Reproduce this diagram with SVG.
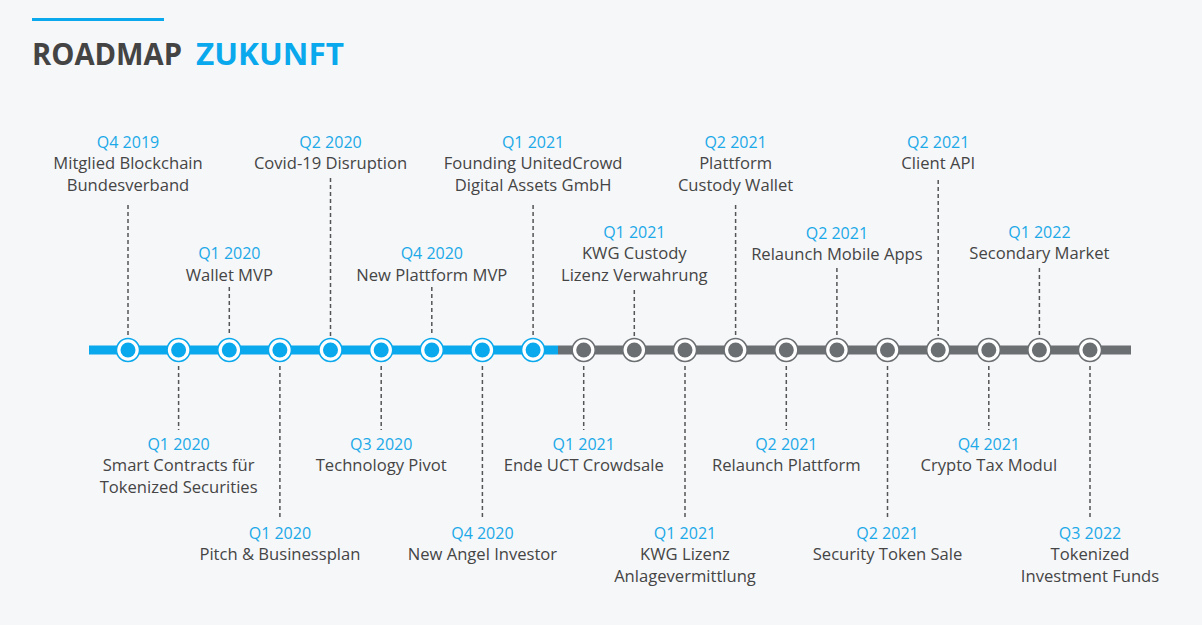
<svg xmlns="http://www.w3.org/2000/svg" width="1202" height="625" viewBox="0 0 1202 625">
<style>
.d{font-family:"Open Sans","Liberation Sans",sans-serif;font-size:16px;fill:#1ba9e8;text-anchor:middle}
.t{font-family:"Open Sans","Liberation Sans",sans-serif;font-size:16.6px;fill:#454545;text-anchor:middle}
.ln{stroke:#555;stroke-width:1.5;stroke-dasharray:4 3;fill:none}
.bo{fill:#fff;stroke:#0aa8ec;stroke-width:1.5}
.bi{fill:#0aa8ec}
.go{fill:#fff;stroke:#6b6f72;stroke-width:1.5}
.gi{fill:#6b6f72}
</style>
<rect width="1202" height="625" fill="#f6f7f9"/>
<g id="title">
<rect x="32" y="18" width="132" height="3" fill="#0aa8ec"/>
<text x="32" y="65" font-family="'Open Sans','Liberation Sans',sans-serif" font-weight="bold" font-size="31" fill="#444" textLength="150" lengthAdjust="spacingAndGlyphs">ROADMAP</text>
<text x="196" y="65" font-family="'Open Sans','Liberation Sans',sans-serif" font-weight="bold" font-size="31" fill="#0aa8ec" textLength="148" lengthAdjust="spacingAndGlyphs">ZUKUNFT</text>
</g>
<g id="connectors">
<line x1="89" y1="350" x2="558" y2="350" stroke="#0aa8ec" stroke-width="9"/>
<line x1="558" y1="350" x2="1131" y2="350" stroke="#6b6f72" stroke-width="9"/>
<line class="ln" x1="128" y1="205" x2="128" y2="336"/>
<line class="ln" x1="178.6" y1="366" x2="178.6" y2="430"/>
<line class="ln" x1="229.3" y1="287" x2="229.3" y2="336"/>
<line class="ln" x1="279.9" y1="366" x2="279.9" y2="518"/>
<line class="ln" x1="330.5" y1="178" x2="330.5" y2="336"/>
<line class="ln" x1="381.2" y1="366" x2="381.2" y2="430"/>
<line class="ln" x1="431.8" y1="287" x2="431.8" y2="336"/>
<line class="ln" x1="482.4" y1="366" x2="482.4" y2="518"/>
<line class="ln" x1="533.1" y1="205" x2="533.1" y2="336"/>
<line class="ln" x1="583.7" y1="366" x2="583.7" y2="430"/>
<line class="ln" x1="634.3" y1="290" x2="634.3" y2="336"/>
<line class="ln" x1="685" y1="366" x2="685" y2="518"/>
<line class="ln" x1="735.6" y1="205" x2="735.6" y2="336"/>
<line class="ln" x1="786.3" y1="366" x2="786.3" y2="430"/>
<line class="ln" x1="836.9" y1="268" x2="836.9" y2="336"/>
<line class="ln" x1="887.5" y1="366" x2="887.5" y2="518"/>
<line class="ln" x1="938.2" y1="180" x2="938.2" y2="336"/>
<line class="ln" x1="988.8" y1="366" x2="988.8" y2="430"/>
<line class="ln" x1="1039.4" y1="268" x2="1039.4" y2="336"/>
<line class="ln" x1="1090" y1="366" x2="1090" y2="518"/>
</g>
<g id="n0"><circle class="bo" cx="128" cy="350" r="11.5"/><circle class="bi" cx="128" cy="350" r="7.5"/><text class="d" x="128" y="148">Q4 2019</text><text class="t" x="128" y="169">Mitglied Blockchain</text><text class="t" x="128" y="191">Bundesverband</text></g>
<g id="n1"><circle class="bo" cx="178.6" cy="350" r="11.5"/><circle class="bi" cx="178.6" cy="350" r="7.5"/><text class="d" x="178.6" y="450">Q1 2020</text><text class="t" x="178.6" y="471">Smart Contracts für</text><text class="t" x="178.6" y="493">Tokenized Securities</text></g>
<g id="n2"><circle class="bo" cx="229.3" cy="350" r="11.5"/><circle class="bi" cx="229.3" cy="350" r="7.5"/><text class="d" x="229.3" y="259">Q1 2020</text><text class="t" x="229.3" y="281">Wallet MVP</text></g>
<g id="n3"><circle class="bo" cx="279.9" cy="350" r="11.5"/><circle class="bi" cx="279.9" cy="350" r="7.5"/><text class="d" x="279.9" y="539">Q1 2020</text><text class="t" x="279.9" y="560">Pitch &amp; Businessplan</text></g>
<g id="n4"><circle class="bo" cx="330.5" cy="350" r="11.5"/><circle class="bi" cx="330.5" cy="350" r="7.5"/><text class="d" x="330.5" y="148">Q2 2020</text><text class="t" x="330.5" y="169">Covid-19 Disruption</text></g>
<g id="n5"><circle class="bo" cx="381.2" cy="350" r="11.5"/><circle class="bi" cx="381.2" cy="350" r="7.5"/><text class="d" x="381.2" y="450">Q3 2020</text><text class="t" x="381.2" y="471">Technology Pivot</text></g>
<g id="n6"><circle class="bo" cx="431.8" cy="350" r="11.5"/><circle class="bi" cx="431.8" cy="350" r="7.5"/><text class="d" x="431.8" y="259">Q4 2020</text><text class="t" x="431.8" y="281">New Plattform MVP</text></g>
<g id="n7"><circle class="bo" cx="482.4" cy="350" r="11.5"/><circle class="bi" cx="482.4" cy="350" r="7.5"/><text class="d" x="482.4" y="539">Q4 2020</text><text class="t" x="482.4" y="560">New Angel Investor</text></g>
<g id="n8"><circle class="bo" cx="533.1" cy="350" r="11.5"/><circle class="bi" cx="533.1" cy="350" r="7.5"/><text class="d" x="533.1" y="148">Q1 2021</text><text class="t" x="533.1" y="169">Founding UnitedCrowd</text><text class="t" x="533.1" y="191">Digital Assets GmbH</text></g>
<g id="n9"><circle class="go" cx="583.7" cy="350" r="11.5"/><circle class="gi" cx="583.7" cy="350" r="7.5"/><text class="d" x="583.7" y="450">Q1 2021</text><text class="t" x="583.7" y="471">Ende UCT Crowdsale</text></g>
<g id="n10"><circle class="go" cx="634.3" cy="350" r="11.5"/><circle class="gi" cx="634.3" cy="350" r="7.5"/><text class="d" x="634.3" y="238">Q1 2021</text><text class="t" x="634.3" y="259">KWG Custody</text><text class="t" x="634.3" y="281">Lizenz Verwahrung</text></g>
<g id="n11"><circle class="go" cx="685" cy="350" r="11.5"/><circle class="gi" cx="685" cy="350" r="7.5"/><text class="d" x="685" y="539">Q1 2021</text><text class="t" x="685" y="560">KWG Lizenz</text><text class="t" x="685" y="582">Anlagevermittlung</text></g>
<g id="n12"><circle class="go" cx="735.6" cy="350" r="11.5"/><circle class="gi" cx="735.6" cy="350" r="7.5"/><text class="d" x="735.6" y="148">Q2 2021</text><text class="t" x="735.6" y="169">Plattform</text><text class="t" x="735.6" y="191">Custody Wallet</text></g>
<g id="n13"><circle class="go" cx="786.3" cy="350" r="11.5"/><circle class="gi" cx="786.3" cy="350" r="7.5"/><text class="d" x="786.3" y="450">Q2 2021</text><text class="t" x="786.3" y="471">Relaunch Plattform</text></g>
<g id="n14"><circle class="go" cx="836.9" cy="350" r="11.5"/><circle class="gi" cx="836.9" cy="350" r="7.5"/><text class="d" x="836.9" y="239">Q2 2021</text><text class="t" x="836.9" y="260">Relaunch Mobile Apps</text></g>
<g id="n15"><circle class="go" cx="887.5" cy="350" r="11.5"/><circle class="gi" cx="887.5" cy="350" r="7.5"/><text class="d" x="887.5" y="539">Q2 2021</text><text class="t" x="887.5" y="560">Security Token Sale</text></g>
<g id="n16"><circle class="go" cx="938.2" cy="350" r="11.5"/><circle class="gi" cx="938.2" cy="350" r="7.5"/><text class="d" x="938.2" y="148">Q2 2021</text><text class="t" x="938.2" y="169">Client API</text></g>
<g id="n17"><circle class="go" cx="988.8" cy="350" r="11.5"/><circle class="gi" cx="988.8" cy="350" r="7.5"/><text class="d" x="988.8" y="450">Q4 2021</text><text class="t" x="988.8" y="471">Crypto Tax Modul</text></g>
<g id="n18"><circle class="go" cx="1039.4" cy="350" r="11.5"/><circle class="gi" cx="1039.4" cy="350" r="7.5"/><text class="d" x="1039.4" y="238">Q1 2022</text><text class="t" x="1039.4" y="259">Secondary Market</text></g>
<g id="n19"><circle class="go" cx="1090" cy="350" r="11.5"/><circle class="gi" cx="1090" cy="350" r="7.5"/><text class="d" x="1090" y="539">Q3 2022</text><text class="t" x="1090" y="560">Tokenized</text><text class="t" x="1090" y="582">Investment Funds</text></g>
</svg>
